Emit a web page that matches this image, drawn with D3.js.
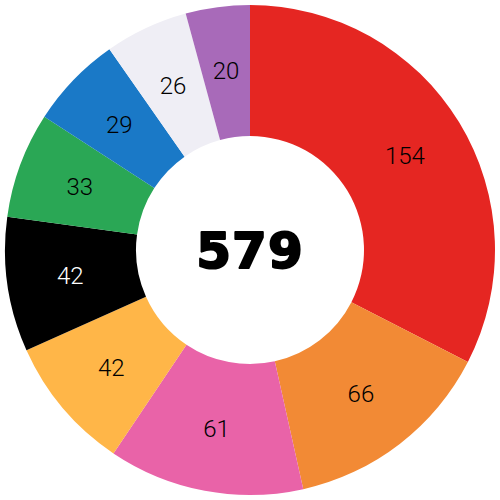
<!DOCTYPE html>
<html><head><meta charset="utf-8">
<script src="https://cdn.jsdelivr.net/npm/d3@7"></script>
<style>html,body{margin:0;padding:0;background:#fff;}</style>
</head><body><svg id="c" width="500" height="500"></svg>
<script>
const categories = ["A","B","C","D","E","F","G","H","I"];
const values = [154, 66, 61, 42, 42, 33, 29, 26, 20];
const colors = ["#e52622","#f28a35","#e963a8","#ffb648","#000000","#2aa755","#1a79c7","#efeef5","#a86ab9"];
const labelColors = ["#000","#000","#000","#000","#fff","#000","#000","#000","#000"];
const totalLabel = "579";

const svg = d3.select("#c");
const g = svg.append("g").attr("transform","translate(250,250)");
const pie = d3.pie().sort(null).value(d=>d.v);
const data = pie(categories.map((c,i)=>({c, v:values[i], i})));
const arc = d3.arc().innerRadius(114).outerRadius(245);
const labelArc = d3.arc().innerRadius(118).outerRadius(245);
g.selectAll("path").data(data).join("path")
  .attr("d", arc).attr("fill", d=>colors[d.data.i]);
g.selectAll("text.l").data(data).join("text").attr("class","l")
  .attr("transform", d=>`translate(${labelArc.centroid(d)})`)
  .attr("text-anchor","middle").attr("dy","0.36em")
  .attr("font-family","Roboto").attr("font-weight",300).attr("font-size",24)
  .attr("fill", d=>labelColors[d.data.i]).text(d=>d.data.v);
g.append("text").attr("text-anchor","middle").attr("dy","0.36em")
  .attr("font-family","DejaVu Sans").attr("font-weight","bold").attr("font-size",50)
  .attr("letter-spacing",1)
  .attr("stroke","#000").attr("stroke-width",2).attr("stroke-linejoin","round")
  .attr("fill","#000").text(totalLabel);
</script></body></html>
